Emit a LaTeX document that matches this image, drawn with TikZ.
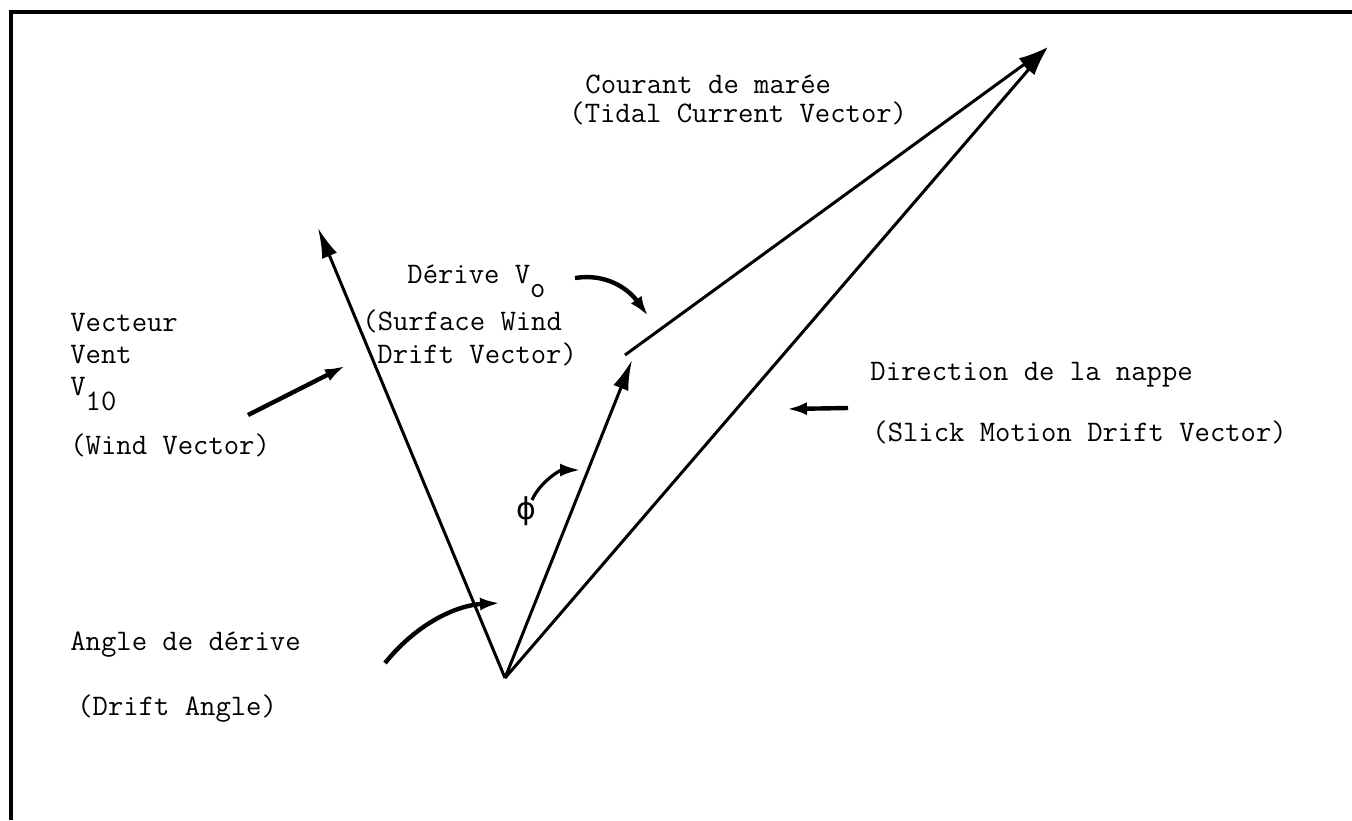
\documentclass[tikz,border=0pt]{standalone}
\usepackage{fontspec}
\newfontfamily\phifont{DejaVu Sans}
\usetikzlibrary{arrows.meta}
\begin{document}
\begin{tikzpicture}[x=0.5pt,y=-0.5pt,
  lbl/.style={font=\fontsize{14.9pt}{17pt}\selectfont\ttfamily\addfontfeatures{FakeBold=0.6}, inner sep=0pt, anchor=base west},
  vec/.style={line width=1.5pt, -{Latex[length=15pt,width=8pt]}},
  pointer/.style={line width=2.2pt, -{Latex[length=10pt,width=6.5pt]}},
  frameline/.style={line width=2pt}]
\useasboundingbox (0,0) rectangle (1352,820);
% frame
\coordinate (F1) at (11,820);
\coordinate (F2) at (11,12);
\coordinate (F3) at (1352,12);
\draw[frameline] (F1) -- (F2) -- (F3);
% vectors
\coordinate (O) at (505,678);
\coordinate (W) at (318,228);
\coordinate (D) at (632,360);
\coordinate (Ts) at (625,355);
\coordinate (T) at (1048,47);
\draw[vec] (O) -- (W);
\draw[vec] (O) -- (D);
\draw[vec] (Ts) -- (T);
\draw[vec] (O) -- (T);
% labels
\node[lbl] (courant) at (585,93) {Courant de marée};
\node[lbl] (tidal) at (569,122) {(Tidal Current Vector)};
\node[lbl] (derive) at (407,283) {Dérive V\raisebox{-7pt}{o}};
\node[lbl] (surf1) at (362,330) {(Surface Wind};
\node[lbl] (surf2) at (377,363) {Drift Vector)};
\node[lbl] (vect) at (70,331) {Vecteur};
\node[lbl] (vent) at (70,363) {Vent};
\node[lbl] (v10) at (70,395) {V\raisebox{-7.5pt}{10}};
\node[lbl] (windv) at (70,454) {(Wind Vector)};
\node[lbl] (dir) at (870,380) {Direction de la nappe};
\node[lbl] (slick) at (872,441) {(Slick Motion Drift Vector)};
\node[lbl] (angle) at (70,650) {Angle de dérive};
\node[lbl] (dangle) at (77,715) {(Drift Angle)};
\node[font=\phifont\fontsize{15pt}{18pt}\selectfont, inner sep=0pt] (phi) at (526,511) {ϕ};
% pointer arrows
\coordinate (wa1) at (248,415);
\coordinate (wa2) at (345,366);
\draw[pointer] (wa1) -- (wa2);
\coordinate (sa1) at (848,408);
\coordinate (sa2) at (787,409);
\draw[pointer] (sa1) -- (sa2);
\coordinate (da1) at (575,278);
\coordinate (da2) at (648,316);
\draw[pointer] (da1) .. controls (615,272) and (635,298) .. (da2);
\coordinate (pa1) at (532,500);
\coordinate (pa2) at (580,470);
\draw[pointer,line width=1.6pt] (pa1) .. controls (540,482) and (560,470) .. (pa2);
\coordinate (aa1) at (385,663);
\coordinate (aa2) at (500,603);
\draw[pointer] (aa1) .. controls (420,620) and (460,605) .. (aa2);
\end{tikzpicture}
\end{document}
